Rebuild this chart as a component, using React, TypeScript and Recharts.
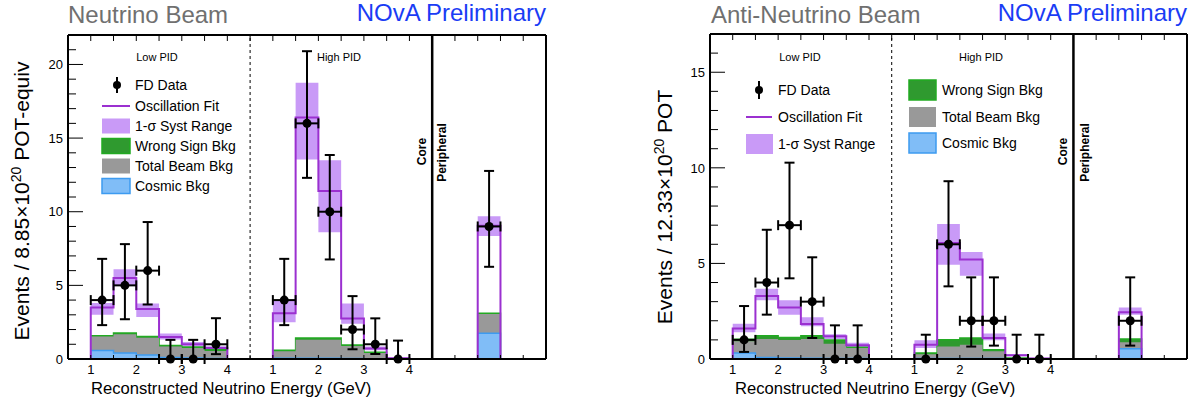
import React from "react";
import {
  ComposedChart,
  Area,
  Line,
  Scatter,
  ErrorBar,
  XAxis,
  YAxis,
  ReferenceLine,
} from "recharts";

// one shared x scale: Low PID bins 1-4 GeV, High PID bins shifted by +4, one peripheral bin
const binStarts = [1, 1.5, 2, 2.5, 3, 3.5, 5, 5.5, 6, 6.5, 7, 7.5, 9.5];
const BIN_W = 0.5;
const X_MIN = 0.5;
const X_MAX = 11;

const energyTicks = [1, 2, 3, 4, 5, 6, 7, 8];
const energyLabels = ["1", "2", "3", "4", "1", "2", "3", "4"];
const halfTicks = [
  0.5, 1, 1.5, 2, 2.5, 3, 3.5, 4, 4.5, 5, 5.5, 6, 6.5, 7, 7.5, 8, 8.5, 9, 9.5,
  10, 10.5, 11,
];

const nuYTicks = [
  0, 1, 2, 3, 4, 5, 6, 7, 8, 9, 10, 11, 12, 13, 14, 15, 16, 17, 18, 19, 20, 21,
  22,
];
const anuYTicks = [0, 1, 2, 3, 4, 5, 6, 7, 8, 9, 10, 11, 12, 13, 14, 15, 16, 17];

// neutrino beam (6 low PID, 6 high PID, 1 peripheral)
const nuFit = [3.5, 5.5, 3.4, 1.5, 1.0, 0.75, 3.1, 16.4, 11.4, 2.75, 0.72, 0.05, 9.05];
const nuSystLo = [3.0, 4.95, 2.85, 1.33, 0.85, 0.65, 2.5, 13.55, 8.6, 2.4, 0.6, 0, 8.35];
const nuSystHi = [3.8, 6.1, 3.77, 1.74, 1.15, 0.87, 3.95, 18.75, 13.5, 3.77, 0.85, 0.1, 9.7];
const nuWrongSign = [1.58, 1.76, 1.52, 0.92, 0.82, 0.62, 0.6, 1.42, 1.42, 0.95, 0.45, 0.02, 3.1];
const nuBeamBkg = [1.52, 1.68, 1.45, 0.85, 0.75, 0.55, 0.53, 1.3, 1.3, 0.88, 0.4, 0.02, 3.05];
const nuCosmic = [0.58, 0.4, 0.27, 0.1, 0.06, 0.04, 0.05, 0.05, 0.05, 0.04, 0.02, 0.01, 1.75];
const nuData = [4, 5, 6, 0, 0, 1, 4, 16, 10, 2, 1, 0, 9];
const nuErrUp = [2.8, 2.8, 3.3, 1.3, 1.3, 1.77, 2.8, 4.9, 3.85, 2.27, 1.76, 1.25, 3.77];
const nuErrDown = [1.7, 2.3, 2.3, 0, 0, 0.67, 1.7, 3.7, 3.24, 1.34, 0.66, 0, 2.74];

// anti-neutrino beam
const anuFit = [1.59, 3.3, 2.7, 1.83, 1.19, 0.72, 0.75, 6.07, 5.2, 1.1, 0.2, 0.03, 2.44];
const anuSystLo = [1.4, 3.07, 2.32, 1.71, 1.05, 0.6, 0.58, 4.93, 4.35, 0.98, 0.15, 0, 2.32];
const anuSystHi = [1.85, 3.68, 3.07, 2.18, 1.3, 0.85, 0.98, 7.06, 5.6, 1.33, 0.26, 0.06, 2.7];
const anuWrongSign = [1.03, 1.22, 1.13, 1.22, 1.0, 0.62, 0.32, 1.01, 1.1, 0.49, 0.05, 0.01, 1.05];
const anuBeamBkg = [0.93, 1.05, 1.0, 1.05, 0.8, 0.58, 0.25, 0.66, 0.75, 0.4, 0.04, 0.01, 0.87];
const anuCosmic = [0.32, 0.08, 0.05, 0.04, 0.03, 0.02, 0.03, 0.03, 0.03, 0.02, 0.01, 0.01, 0.54];
const anuData = [1, 4, 7, 3, 0, 0, 0, 6, 2, 2, 0, 0, 2];
const anuErrUp = [1.77, 2.76, 3.27, 2.32, 1.76, 1.76, 1.27, 3.3, 2.27, 2.27, 1.27, 1.27, 2.27];
const anuErrDown = [0.63, 1.68, 2.78, 1.9, 0, 0, 0, 2.2, 1.35, 1.3, 0, 0, 1.3];

const FONT = "'Liberation Sans', Arial, Helvetica, sans-serif";
const PURPLE = "#9b30d0";
const BAND = "#c99af7";
const GREEN = "#2f9a2f";
const GREEN_EDGE = "#22aa22";
const GRAY = "#999999";
const BLUE = "#80bdf7";
const BLUE_EDGE = "#3d9bf0";

type PanelData = {
  fit: number[];
  systLo: number[];
  systHi: number[];
  wrongSign: number[];
  beamBkg: number[];
  cosmic: number[];
  data: number[];
  errUp: number[];
  errDown: number[];
};

const zeroRow = (x: number) => ({ x, fit: 0, syst: [0, 0], ws: 0, beam: 0, cos: 0 });

// rows at bin edges for stepAfter curves, zero in the gaps between sections
function buildRows(d: PanelData) {
  const rows: any[] = [zeroRow(X_MIN)];
  binStarts.forEach((s, i) => {
    rows.push({
      x: s,
      fit: d.fit[i],
      syst: [d.systLo[i], d.systHi[i]],
      ws: d.wrongSign[i],
      beam: d.beamBkg[i],
      cos: d.cosmic[i],
    });
    const end = s + BIN_W;
    if (binStarts[i + 1] !== end) rows.push(zeroRow(end));
  });
  rows.push(zeroRow(X_MAX));
  return rows;
}

const BottomTick = (p: any) => {
  const idx = energyTicks.indexOf(p.payload.value);
  return (
    <g>
      <line x1={p.x} x2={p.x} y1={p.y} y2={p.y - 4} stroke="#000" />
      {idx >= 0 && (
        <text x={p.x} y={p.y + 15} textAnchor="middle" fontSize={13} fontFamily={FONT} fill="#000">
          {energyLabels[idx]}
        </text>
      )}
    </g>
  );
};

const TopTick = (p: any) => (
  <line x1={p.x} x2={p.x} y1={p.y} y2={p.y + 6} stroke="#000" />
);

const LeftTick = (p: any) => {
  const v = p.payload.value;
  const major = v % 5 === 0;
  return (
    <g>
      <line x1={p.x} x2={p.x + (major ? 15 : 8)} y1={p.y} y2={p.y} stroke="#000" />
      {major && (
        <text x={p.x - 5} y={p.y} dy="0.36em" textAnchor="end" fontSize={13} fontFamily={FONT} fill="#000">
          {v}
        </text>
      )}
    </g>
  );
};

const RightTick = (p: any) => {
  const major = p.payload.value % 5 === 0;
  return <line x1={p.x} x2={p.x - (major ? 15 : 8)} y1={p.y} y2={p.y} stroke="#000" />;
};

const Panel = ({
  d,
  yMax,
  yTicks,
  margin,
}: {
  d: PanelData;
  yMax: number;
  yTicks: number[];
  margin: { top: number; right: number; bottom: number; left: number };
}) => {
  const rows = buildRows(d);
  const points = binStarts.map((s, i) => ({
    x: s + BIN_W / 2,
    y: d.data[i],
    ey: [d.errDown[i], d.errUp[i]],
    ex: BIN_W / 2,
  }));
  const frame = { stroke: "#000", strokeWidth: 2 };
  return (
    <ComposedChart width={596} height={402} data={rows} margin={margin} style={{ fontFamily: FONT }}>
      <XAxis
        dataKey="x"
        type="number"
        domain={[X_MIN, X_MAX]}
        ticks={halfTicks}
        interval={0}
        height={1}
        tickSize={0}
        tickMargin={0}
        tickLine={false}
        axisLine={frame}
        tick={BottomTick}
      />
      <XAxis
        xAxisId="top"
        orientation="top"
        dataKey="x"
        type="number"
        domain={[X_MIN, X_MAX]}
        ticks={halfTicks}
        interval={0}
        height={1}
        tickSize={0}
        tickMargin={0}
        tickLine={false}
        axisLine={frame}
        tick={TopTick}
      />
      <YAxis
        type="number"
        domain={[0, yMax]}
        ticks={yTicks}
        interval={0}
        width={1}
        tickSize={0}
        tickMargin={0}
        tickLine={false}
        axisLine={frame}
        tick={LeftTick}
      />
      <YAxis
        yAxisId="r"
        orientation="right"
        type="number"
        domain={[0, yMax]}
        ticks={yTicks}
        interval={0}
        width={1}
        tickSize={0}
        tickMargin={0}
        tickLine={false}
        axisLine={frame}
        tick={RightTick}
      />
      <ReferenceLine x={4.5} stroke="#000" strokeDasharray="3 3" />
      <ReferenceLine x={8.5} stroke="#000" strokeWidth={2.5} />
      <Area dataKey="syst" type="stepAfter" fill={BAND} fillOpacity={1} stroke="none" isAnimationActive={false} />
      <Area dataKey="ws" type="stepAfter" fill={GREEN} fillOpacity={1} stroke={GREEN_EDGE} strokeWidth={1.5} isAnimationActive={false} />
      <Area dataKey="beam" type="stepAfter" fill={GRAY} fillOpacity={1} stroke="none" isAnimationActive={false} />
      <Area dataKey="cos" type="stepAfter" fill={BLUE} fillOpacity={1} stroke={BLUE_EDGE} strokeWidth={1.5} isAnimationActive={false} />
      <Line dataKey="fit" type="stepAfter" stroke={PURPLE} strokeWidth={2} dot={false} activeDot={false} isAnimationActive={false} />
      <Scatter data={points} dataKey="y" fill="#000" isAnimationActive={false}>
        <ErrorBar dataKey="ey" direction="y" width={5} stroke="#000" strokeWidth={2} />
        <ErrorBar dataKey="ex" direction="x" width={5} stroke="#000" strokeWidth={2} />
      </Scatter>
    </ComposedChart>
  );
};

const Swatch = ({ x, y, w, h, fill, stroke }: any) => (
  <rect x={x} y={y - h / 2} width={w} height={h} fill={fill} stroke={stroke || "none"} strokeWidth={stroke ? 1.5 : 0} />
);

const LegText = ({ x, y, children }: any) => (
  <text x={x} y={y} dy="0.36em" fontSize={14} fill="#000">
    {children}
  </text>
);

const Overlay = () => (
  <svg
    width={1193}
    height={402}
    style={{ position: "absolute", left: 0, top: 0, pointerEvents: "none", fontFamily: FONT }}
  >
    {/* titles */}
    <text x={68} y={23} fontSize={24} fill="#707070">Neutrino Beam</text>
    <text x={546} y={21} fontSize={24} fill="#1a3cf5" textAnchor="end">NOvA Preliminary</text>
    <text x={711} y={23} fontSize={24} fill="#707070">Anti-Neutrino Beam</text>
    <text x={1187} y={21} fontSize={24} fill="#1a3cf5" textAnchor="end">NOvA Preliminary</text>

    {/* axis titles */}
    <text transform="translate(29,201) rotate(-90)" textAnchor="middle" fontSize={21} fill="#000">
      Events / 8.85×10<tspan dy={-8} fontSize={14}>20</tspan>
      <tspan dy={8}> POT-equiv</tspan>
    </text>
    <text transform="translate(672,207) rotate(-90)" textAnchor="middle" fontSize={21} fill="#000">
      Events / 12.33×10<tspan dy={-8} fontSize={14}>20</tspan>
      <tspan dy={8}> POT</tspan>
    </text>
    <text x={91} y={394} fontSize={16.6} fill="#000">Reconstructed Neutrino Energy (GeV)</text>
    <text x={735} y={394} fontSize={16.6} fill="#000">Reconstructed Neutrino Energy (GeV)</text>

    {/* section labels */}
    <text x={157} y={60.5} fontSize={11} textAnchor="middle">Low PID</text>
    <text x={339} y={60.5} fontSize={11} textAnchor="middle">High PID</text>
    <text x={800} y={60.5} fontSize={11} textAnchor="middle">Low PID</text>
    <text x={981} y={60.5} fontSize={11} textAnchor="middle">High PID</text>
    <text transform="translate(426,151.5) rotate(-90)" fontSize={12} fontWeight="bold" textAnchor="middle">Core</text>
    <text transform="translate(446,152.5) rotate(-90)" fontSize={12} fontWeight="bold" textAnchor="middle">Peripheral</text>
    <text transform="translate(1067,151.5) rotate(-90)" fontSize={12} fontWeight="bold" textAnchor="middle">Core</text>
    <text transform="translate(1089,152.5) rotate(-90)" fontSize={12} fontWeight="bold" textAnchor="middle">Peripheral</text>

    {/* left legend */}
    <line x1={117} x2={117} y1={77} y2={93} stroke="#000" strokeWidth={2} />
    <circle cx={117} cy={85} r={4} fill="#000" />
    <LegText x={135} y={85}>FD Data</LegText>
    <line x1={102} x2={130} y1={106} y2={106} stroke={PURPLE} strokeWidth={2} />
    <LegText x={135} y={106}>Oscillation Fit</LegText>
    <Swatch x={102} y={126} w={28} h={15} fill={BAND} />
    <LegText x={135} y={126}>1-σ Syst Range</LegText>
    <Swatch x={102} y={146} w={28} h={15} fill={GREEN} stroke={GREEN_EDGE} />
    <LegText x={135} y={146}>Wrong Sign Bkg</LegText>
    <Swatch x={102} y={166} w={28} h={15} fill={GRAY} />
    <LegText x={135} y={166}>Total Beam Bkg</LegText>
    <Swatch x={102} y={186} w={28} h={15} fill={BLUE} stroke={BLUE_EDGE} />
    <LegText x={135} y={186}>Cosmic Bkg</LegText>

    {/* right legend */}
    <line x1={759} x2={759} y1={81} y2={99} stroke="#000" strokeWidth={2} />
    <circle cx={759} cy={90} r={4} fill="#000" />
    <LegText x={778} y={90}>FD Data</LegText>
    <line x1={746} x2={772} y1={117} y2={117} stroke={PURPLE} strokeWidth={2} />
    <LegText x={778} y={117}>Oscillation Fit</LegText>
    <Swatch x={746} y={144} w={27} h={20} fill={BAND} />
    <LegText x={778} y={144}>1-σ Syst Range</LegText>
    <Swatch x={909} y={90} w={27} h={20} fill={GREEN} stroke={GREEN_EDGE} />
    <LegText x={942} y={90}>Wrong Sign Bkg</LegText>
    <Swatch x={909} y={117} w={27} h={20} fill={GRAY} />
    <LegText x={942} y={117}>Total Beam Bkg</LegText>
    <Swatch x={909} y={143} w={27} h={20} fill={BLUE} stroke={BLUE_EDGE} />
    <LegText x={942} y={143}>Cosmic Bkg</LegText>
  </svg>
);

const nuPanel: PanelData = {
  fit: nuFit,
  systLo: nuSystLo,
  systHi: nuSystHi,
  wrongSign: nuWrongSign,
  beamBkg: nuBeamBkg,
  cosmic: nuCosmic,
  data: nuData,
  errUp: nuErrUp,
  errDown: nuErrDown,
};

const anuPanel: PanelData = {
  fit: anuFit,
  systLo: anuSystLo,
  systHi: anuSystHi,
  wrongSign: anuWrongSign,
  beamBkg: anuBeamBkg,
  cosmic: anuCosmic,
  data: anuData,
  errUp: anuErrUp,
  errDown: anuErrDown,
};

export default function App() {
  return (
    <div
      style={{
        position: "absolute",
        left: 0,
        top: 0,
        width: 1193,
        height: 402,
        background: "#fff",
        fontFamily: FONT,
      }}
    >
      <div style={{ position: "absolute", left: 0, top: 0 }}>
        <Panel d={nuPanel} yMax={22} yTicks={nuYTicks} margin={{ top: 34, right: 49, bottom: 42, left: 67 }} />
      </div>
      <div style={{ position: "absolute", left: 597, top: 0 }}>
        <Panel d={anuPanel} yMax={17} yTicks={anuYTicks} margin={{ top: 33, right: 5, bottom: 42, left: 112 }} />
      </div>
      <Overlay />
    </div>
  );
}
